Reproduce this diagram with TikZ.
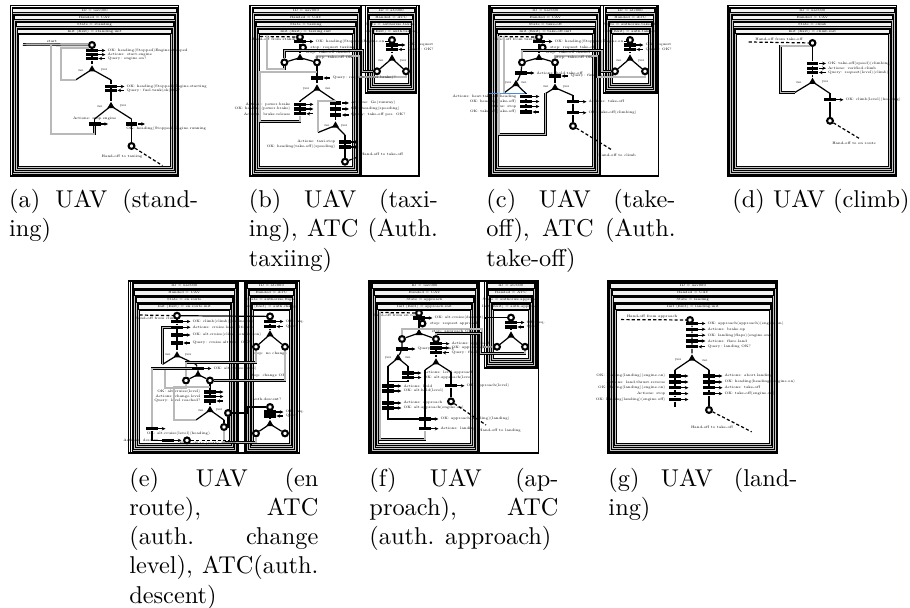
\documentclass[tikz,border=0pt]{standalone}
\usepackage{tikz}
\usetikzlibrary{arrows.meta,positioning,shapes.geometric}
\definecolor{selblue}{RGB}{70,140,215}
\tikzset{band/.style={fill=gray!45, draw=black, line width=0.3pt}, titlebar/.style={fill=gray!10, draw=black, line width=0.25pt}, panelbox/.style={draw=black, line width=0.5pt}, hdr/.style={font=\fontsize{1.4}{1.7}\selectfont, inner sep=0pt}, lbl/.style={font=\fontsize{1.45}{1.7}\selectfont, inner sep=0.3pt}, place/.style={circle, draw, line width=0.85pt, fill=white, inner sep=0pt, minimum size=2.4pt}, bar/.style={fill=black, inner sep=0pt, minimum width=4.9pt, minimum height=1.3pt}, choice/.style={regular polygon, regular polygon sides=3, fill=black, inner sep=0pt, minimum size=3.4pt}, flow/.style={line width=0.5pt}, back/.style={draw=black, line width=0.22pt, double=gray!55, double distance=0.6pt}, hand/.style={line width=0.5pt, dash pattern=on 1.3pt off 0.9pt}, sigo/.style={-{Stealth[length=1.5pt,width=1.4pt]}, line width=0.45pt}, sigi/.style={{Stealth[length=1.5pt,width=1.4pt]}-, line width=0.45pt}, sel/.style={draw=selblue, line width=0.6pt}, subcap/.style={align=left, inner sep=0pt, anchor=north west, font=\normalsize}}
% nested frames: prefix, x1, y1, x2, y2, four title lines
\newcommand{\panelframe}[9]{%
  \draw[panelbox] (#2,#3) rectangle (#4,#5);
  \foreach \k/\txt in {0/{#6},1/{#7},2/{#8},3/{#9}}{%
    \filldraw[band] (#2+1.5+1.7*\k,#3+1.5+7*\k) rectangle (#4-1.5-1.7*\k,#5-1.5-2*\k);
    \filldraw[titlebar] (#2+2.3+1.7*\k,#3+2.3+7*\k) rectangle (#4-2.3-1.7*\k,#3+7+7*\k);
    \node[hdr] (#1-h\k) at ({(#2+#4)/2},#3+4.65+7*\k) {\txt};
  }
  \filldraw[fill=white, line width=0.3pt] (#2+8.3,#3+29) rectangle (#4-8.3,#5-9.5);
}
% transition bar: name, x, y, o/i, text, side (l,r,a,b,q)
\newcommand{\tbar}[6]{%
  \node[bar] (#1) at (#2,#3) {};
  \draw[sig#4] (#1.east) -- ++(7,0) coordinate (#1-e);
  \if l#6\node[lbl,left=0.8pt of #1] (#1-l) {#5};\else
  \if b#6\node[lbl,below=0.4pt of #1] (#1-l) {#5};\else
  \if a#6\node[lbl,above=0.4pt of #1] (#1-l) {#5};\else
  \if q#6\node[lbl,anchor=north west] (#1-l) at (#1.south west) {#5};\else
  \node[lbl,right=0.4pt of #1-e] (#1-l) {#5};\fi\fi\fi\fi}
\newcommand{\capline}[1]{\makebox[77.7pt][s]{#1}}

\begin{document}
\begin{tikzpicture}[x=0.411pt,y=-0.411pt]
\useasboundingbox (0,0) rectangle (910,608);

% (a) UAV standing
\panelframe{a}{10.4}{5.8}{178.8}{176}{ID = uav000}{Handed = UAV}{State = standing}{Init (Exit) = standing.init}
\coordinate (a-s) at (23,44.5);
\coordinate (a-j) at (51,44.5);
\node[place] (a-p0) at (92,45) {};
\node[lbl] (a-sl) at (52,41.5) {start};
\draw[back] (a-s) -- (a-p0);
\tbar{a-t1}{92}{50.5}{o}{OK: heading(Stopped)Engine.stopped}{r}
\tbar{a-t2}{92}{54.6}{o}{Actions: start.engine}{r}
\tbar{a-t3}{92}{58.5}{i}{Query: engine.on?}{r}
\node[choice] (a-c1) at (92,69.4) {};
\coordinate (a-n1) at (75.5,80); \coordinate (a-y1) at (111,80);
\draw[flow] (a-p0) -- (a-t1) -- (a-t2) -- (a-t3) -- (a-c1);
\draw[flow] (a-n1) -- (a-c1.center) -- (a-y1);
\node[lbl] (a-nl) at (81,70.5) {no}; \node[lbl] (a-yl) at (104,70.5) {yes};
\draw[back] (a-n1) -- ++(-14.5,0) |- (a-p0.south west);
\tbar{a-t4}{111}{86.5}{o}{OK: heading(Stopped)Engine.starting}{r}
\tbar{a-t5}{111}{90.4}{i}{Query: fuel.tank(ok)OK?}{r}
\node[choice] (a-c2) at (111,106) {};
\coordinate (a-n2) at (94.6,119); \coordinate (a-y2) at (131.5,119);
\draw[flow] (a-y1) -- (a-t4) -- (a-t5) -- (a-c2);
\draw[flow] (a-n2) -- (a-c2.center) -- (a-y2);
\node[lbl] (a-nl2) at (100,106.5) {no}; \node[lbl] (a-yl2) at (123,106.5) {yes};
\tbar{a-t6}{94.6}{124}{o}{Actions: stop.engine}{a}
\draw[flow] (a-n2) -- (a-t6);
\draw[back] (a-t6) -- ++(0,10) -| (a-j);
\tbar{a-t7}{131.5}{124}{o}{OK: heading(Stopped)Engine.running}{q}
\node[place] (a-p1) at (131.5,146) {};
\draw[flow] (a-y2) -- (a-t7) -- (a-p1);
\coordinate (a-h) at (162.5,165.6);
\draw[hand] (a-p1) -- (a-h);
\node[lbl] (a-hl) at (122,157) {Hand-off to taxiing};

% (b) UAV taxiing, ATC auth. taxiing
\draw[panelbox] (249.6,5.8) rectangle (419,176);
\panelframe{bu}{250.7}{5.8}{361}{176}{ID = uav000}{Handed = UAV}{State = taxiing}{Init (Exit) = taxiing.init}
\panelframe{ba}{365.6}{5.8}{416.7}{93}{ID = atc000}{Handed = ATC}{State = authorize.taxiing}{Init (Exit) = auth.taxiing}
\coordinate (b-s) at (260,36.5);
\coordinate (b-j0) at (267,36.5);
\node[place] (b-p0) at (300,37) {};
\draw[hand] (b-s) -- (b-p0);
\node[lbl] (b-sl) at (276,39.3) {Hand-off from standing};
\tbar{b-t1}{300}{41.5}{o}{OK: heading(Stopped)Engine.on}{r}
\node[place] (b-p1) at (303,47.5) {};
\node[lbl,right=1pt of b-p1] (b-p1l) {stop: request taxiing};
\node[place] (b-a0) at (392,40) {};
\draw[flow] (b-t1-l.east) -- ++(4,0) |- (b-a0);
\node[choice] (b-c1) at (300,57.7) {};
\node[place] (b-p2) at (284.4,62.4) {}; \node[place] (b-p3) at (317,62.4) {};
\draw[flow] (b-p0) -- (b-t1) -- (b-c1);
\draw[flow] (b-p2) -- (b-c1.center) -- (b-p3);
\draw[back] (b-p2) -- ++(0,6.6) -| (b-j0);
\tbar{b-a1}{392}{45}{o}{OK: request}{r}
\tbar{b-a4}{392}{49.5}{i}{Query: OK?}{r}
\node[choice] (b-ac) at (392,58.5) {};
\node[place] (b-a2) at (377,71.3) {}; \node[place] (b-a3) at (406,71.3) {};
\draw[flow] (b-a0) -- (b-a1) -- (b-a4) -- (b-ac);
\draw[flow] (b-a2) -- (b-ac.center) -- (b-a3);
\node[lbl] (b-anl) at (381,61) {no}; \node[lbl] (b-ayl) at (403,61) {yes};
\coordinate (b-q1) at (362.5,50.6); \coordinate (b-q2) at (359,55.8);
\draw[back] (b-p2) |- (b-q1) |- (b-a2);
\draw[back] (b-p3) |- (b-q2) -- ++(0,21) -| (b-a3);
\node[lbl] (b-dl) at (328,52.8) {stop: take-off denied};
\node[lbl] (b-ol) at (334,58) {stop: take-off OK};
\tbar{b-t2}{317}{78}{i}{Query: request(power.brake)?}{r}
\coordinate (b-j1) at (260,72); \coordinate (b-j2) at (317,72);
\node[choice] (b-c2) at (317,88.5) {};
\coordinate (b-n2) at (300,101); \coordinate (b-y2) at (335.5,101);
\draw[flow] (b-p3) -- (b-t2) -- (b-c2);
\draw[flow] (b-n2) -- (b-c2.center) -- (b-y2);
\node[lbl] (b-yl) at (306,89) {yes}; \node[lbl] (b-nl) at (328,89) {no};
\tbar{b-t3}{300}{104.4}{o}{Actions: power.brake}{l}
\tbar{b-t4}{300}{109}{o}{OK: heading(power.brake)}{l}
\tbar{b-t5}{300}{113.8}{i}{Actions: brake.release}{l}
\draw[flow] (b-n2) -- (b-t3) -- (b-t4) -- (b-t5);
\draw[back] (b-t5) -- ++(0,7.6) -| (b-j1) -- (b-j2);
\tbar{b-t6}{335.5}{103}{o}{Actions: Go(runway)}{r}
\tbar{b-t7}{335.5}{109}{o}{OK: heading(speeding)}{r}
\tbar{b-t8}{335.5}{115}{i}{Query: take-off pos. OK?}{r}
\node[choice] (b-c3) at (335.5,125.5) {};
\coordinate (b-n3) at (318,132.5); \coordinate (b-y3) at (345,135);
\draw[flow] (b-y2) -- (b-t6) -- (b-t7) -- (b-t8) -- (b-c3);
\draw[flow] (b-n3) -- (b-c3.center) -- (b-y3);
\draw[back] (b-n3) |- (b-y2);
\node[lbl] (b-nl3) at (327,126) {no}; \node[lbl] (b-yl3) at (344,126) {yes};
\tbar{b-t9}{345}{142}{o}{Actions: taxi.stop}{l}
\tbar{b-t10}{345}{147}{o}{OK: heading(take-off)(speeding)}{l}
\node[place] (b-p4) at (345,161.7) {};
\draw[flow] (b-y3) -- (b-t9) -- (b-t10) -- (b-p4);
\coordinate (b-h) at (358,157);
\draw[hand] (b-p4) -- (b-h);
\node[lbl] (b-hl) at (382,154.7) {Hand-off to take-off};

% (c) UAV take-off, ATC auth. take-off
\draw[panelbox] (489,5.8) rectangle (658.7,176);
\panelframe{cu}{490}{5.8}{600.7}{176}{ID = uav000}{Handed = UAV}{State = take-off}{Init (Exit) = take-off.init}
\panelframe{ca}{603.6}{5.8}{657}{93}{ID = atc000}{Handed = ATC}{State = authorize.take-off}{Init (Exit) = auth.take-off}
\coordinate (c-s) at (499,36.5);
\node[place] (c-p0) at (539,37) {};
\draw[hand] (c-s) -- (c-p0);
\node[lbl] (c-sl) at (516,39.3) {Hand-off from taxiing};
\tbar{c-t1}{539}{41.5}{o}{OK: heading(Stopped)Engine.on}{r}
\node[place] (c-p1) at (542.7,47.5) {};
\node[lbl,right=1pt of c-p1] (c-p1l) {stop: request take-off};
\node[place] (c-a0) at (630,40) {};
\draw[flow] (c-t1-l.east) -- ++(4,0) |- (c-a0);
\node[choice] (c-c1) at (539,57.7) {};
\node[place] (c-p2) at (522,62.4) {}; \node[place] (c-p3) at (555,62.4) {};
\draw[flow] (c-p0) -- (c-t1) -- (c-c1);
\draw[flow] (c-p2) -- (c-c1.center) -- (c-p3);
\tbar{c-a1}{630}{45}{o}{OK: request}{r}
\tbar{c-a4}{630}{49.5}{i}{Query: OK?}{r}
\node[choice] (c-ac) at (630,58.5) {};
\node[place] (c-a2) at (615,71.3) {}; \node[place] (c-a3) at (645,71.3) {};
\draw[flow] (c-a0) -- (c-a1) -- (c-a4) -- (c-ac);
\draw[flow] (c-a2) -- (c-ac.center) -- (c-a3);
\node[lbl] (c-anl) at (619,61) {no}; \node[lbl] (c-ayl) at (641,61) {yes};
\coordinate (c-q1) at (602.2,50.6); \coordinate (c-q2) at (597.5,55.8);
\draw[back] (c-p2) |- (c-q1) |- (c-a2);
\draw[back] (c-p3) |- (c-q2) -- ++(0,21) -| (c-a3);
\node[lbl] (c-dl) at (568,52.8) {stop: take-off denied};
\node[lbl] (c-ol) at (574,58) {stop: take-off OK};
\tbar{c-t2}{521}{73}{o}{Actions: hold.take-off}{r}
\node[choice] (c-c2) at (516,84) {};
\coordinate (c-n2) at (504,93); \coordinate (c-y2) at (526,93.5);
\coordinate (c-j1) at (504,36.5);
\draw[flow] (c-p2) -- (c-t2) -- (c-c2);
\draw[flow] (c-n2) -- (c-c2.center) -- (c-y2);
\node[lbl] (c-yl) at (508,83) {yes}; \node[lbl] (c-nl) at (524,83) {no};
\draw[back] (c-n2) -- (c-j1);
\coordinate (c-f) at (489,93.5);
\draw[sel] (c-f) -- (c-y2);
\tbar{c-t3}{526}{96.5}{o}{Actions: heat.take-off.heading}{l}
\tbar{c-t4}{526}{101.5}{o}{OK: heading(take-off)}{l}
\tbar{c-t5}{526}{106.5}{o}{Actions: stop}{l}
\tbar{c-t6}{526}{112}{i}{OK: take-off(take-off)}{l}
\draw[flow] (c-y2) -- (c-t3) -- (c-t4) -- (c-t5) -- (c-t6);
\tbar{c-t7}{555}{76}{i}{Query: final take-off?}{r}
\node[choice] (c-c3) at (555,87.7) {};
\coordinate (c-n3) at (545.6,93.5); \coordinate (c-y3) at (573,95.5);
\draw[flow] (c-p3) -- (c-t7) -- (c-c3);
\draw[flow] (c-n3) -- (c-c3.center) -- (c-y3);
\node[lbl] (c-nl3) at (546,87) {no}; \node[lbl] (c-yl3) at (566,87) {yes};
\draw[back] (c-n3) -- ++(0,41) -| (c-s);
\tbar{c-t8}{573}{101.7}{o}{Actions: take-off}{r}
\tbar{c-t9}{573}{112.8}{o}{OK: take-off(climbing)}{r}
\node[place] (c-p4) at (573,126) {};
\draw[flow] (c-y3) -- (c-t8) -- (c-t9) -- (c-p4);
\coordinate (c-h) at (612,150);
\draw[hand] (c-p4) -- (c-h);
\node[lbl] (c-hl) at (617,155.5) {Hand-off to climb};

% (d) UAV climb
\panelframe{d}{728}{5.8}{896.7}{176}{ID = uav000}{Handed = UAV}{State = climb}{Init (Exit) = climb.init}
\coordinate (d-s) at (748.7,42);
\node[place] (d-p0) at (812.5,43) {};
\draw[hand] (d-s) -- (d-p0);
\node[lbl] (d-sl) at (779,39.5) {Hand-off from take-off};
\tbar{d-t1}{812.5}{63.5}{o}{OK: take-off(speed)(climbing)}{r}
\tbar{d-t2}{812.5}{68.2}{o}{Actions: verified.climb}{r}
\tbar{d-t3}{812.5}{72.5}{i}{Query: request(level)(climb)}{r}
\node[choice] (d-c1) at (812.5,81.8) {};
\coordinate (d-n1) at (795,92.4); \coordinate (d-y1) at (830,93.5);
\draw[flow] (d-p0) -- (d-t1) -- (d-t2) -- (d-t3) -- (d-c1);
\draw[flow] (d-n1) -- (d-c1.center) -- (d-y1);
\node[lbl] (d-nl) at (799,82.5) {no}; \node[lbl] (d-yl) at (825,82.5) {yes};
\draw[back] (d-n1) -- ++(-14.4,0) |- (d-p0.south west);
\tbar{d-t4}{830}{99.8}{o}{OK: climb(level)(heading)}{r}
\node[place] (d-p1) at (830,120.8) {};
\draw[flow] (d-y1) -- (d-t4) -- (d-p1);
\coordinate (d-h) at (859,138.3);
\draw[hand] (d-p1) -- (d-h);
\node[lbl] (d-hl) at (854,143) {Hand-off to en route};

% (e) UAV en route, ATC auth. change level / auth. descent
\draw[panelbox] (128.8,281) rectangle (299.5,453);
\panelframe{eu}{130.6}{281}{238}{453}{ID = uav000}{Handed = UAV}{State = en route}{Init (Exit) = en.route.init}
\panelframe{ea}{245}{281}{297.7}{453}{ID = atc000}{Handed = ATC}{State = authorize.flight}{Init (Exit) = auth.change}
\coordinate (e-s) at (139.5,315);
\node[place] (e-p0) at (177,315.7) {};
\draw[hand] (e-s) -- (e-p0);
\node[lbl] (e-sl) at (156,318) {Hand-off from climb};
\tbar{e-t1}{177}{321.5}{o}{OK: climb(climb)(engine.on)}{r}
\tbar{e-t2}{177}{327.3}{o}{Actions: cruise.level.altitude}{r}
\tbar{e-t3}{177}{335}{o}{OK: alt.cruise(climb)(engine.on)}{r}
\tbar{e-t4}{177}{343}{i}{Query: cruise.altitude OK?}{r}
\node[choice] (e-c1) at (177,355.4) {};
\coordinate (e-n1) at (162.5,364.4); \coordinate (e-y1) at (196,364.4);
\draw[flow] (e-p0) -- (e-t1) -- (e-t2) -- (e-t3) -- (e-t4) -- (e-c1);
\draw[flow] (e-n1) -- (e-c1.center) -- (e-y1);
\node[lbl] (e-nl) at (168,355) {no}; \node[lbl] (e-yl) at (188,355) {yes};
\draw[back] (e-n1) |- (e-t2);
\node[place] (e-a0) at (270,316.4) {};
\draw[flow] (e-p0) -- (e-a0);
\tbar{e-t5}{198}{368.5}{o}{OK: alt.cruise(level)}{r}
\node[choice] (e-c2) at (198,374.5) {};
\node[place] (e-p2) at (186,380.5) {}; \node[place] (e-p3) at (210,380.5) {};
\draw[flow] (e-y1) -- (e-t5) -- (e-c2);
\draw[flow] (e-p2) -- (e-c2.center) -- (e-p3);
\coordinate (e-q1) at (165,368.5);
\draw[back] (e-p2) -- ++(0,7.5) -| (e-q1) -- (e-t5);
\tbar{e-a1}{270}{321.5}{o}{OK: req.}{r}
\tbar{e-a4}{270}{326.6}{i}{Query}{r}
\node[choice] (e-ac) at (270,334.4) {};
\node[place] (e-a2) at (256,346.8) {}; \node[place] (e-a3) at (285,346.8) {};
\draw[flow] (e-a0) -- (e-a1) -- (e-a4) -- (e-ac);
\draw[flow] (e-a2) -- (e-ac.center) -- (e-a3);
\node[lbl] (e-a2l) at (270,353.8) {stop: no change};
\node[lbl] (e-a3l) at (268,376) {stop: change OK};
\draw[back] (e-a3) |- (e-p3);
\draw[back] (e-a2) -- ++(0,15.6) -| (e-p2);
\coordinate (e-q4) at (210,387);
\tbar{e-t6}{210}{392}{o}{OK: alt.cruise(level)}{l}
\tbar{e-t7}{210}{396.5}{o}{Actions: change.level}{l}
\tbar{e-t8}{210}{401}{i}{Query: level reached?}{l}
\node[choice] (e-c3) at (210,410) {};
\coordinate (e-n3) at (196,420); \coordinate (e-y3) at (224,420);
\draw[flow] (e-p3) -- (e-t6) -- (e-t7) -- (e-t8) -- (e-c3);
\draw[flow] (e-n3) -- (e-c3.center) -- (e-y3);
\node[lbl] (e-nl3) at (201,410.5) {no}; \node[lbl] (e-yl3) at (219,410.5) {yes};
\draw[back] (e-n3) -- ++(-22,0) |- (e-q4);
\tbar{e-t10}{152}{428.7}{o}{OK: alt.cruise(level)(heading)}{q}
\draw[back] (e-t10) |- (e-t5);
\node[place] (e-p5) at (224,427) {};
\node[place] (e-p4) at (228,413) {};
\draw[flow] (e-y3) -- (e-p5);
\draw[flow] (e-p5) -| (e-p4);
\node[lbl] (e-bl) at (267,399.5) {auth.descent?};
\node[place] (e-b0) at (270,407) {};
\draw[flow] (e-p4) -- ++(20,0) |- (e-b0);
\tbar{e-b1}{270}{412}{o}{OK: req.}{r}
\tbar{e-b4}{270}{416}{i}{Query}{r}
\node[choice] (e-bc) at (270,424) {};
\node[place] (e-b2) at (256,433.4) {}; \node[place] (e-b3) at (285,433.4) {};
\draw[flow] (e-b0) -- (e-b1) -- (e-b4) -- (e-bc);
\draw[flow] (e-b2) -- (e-bc.center) -- (e-b3);
\draw[back] (e-b2) -- ++(0,9) -| (e-p5);
\tbar{e-t11}{168}{440.4}{o}{Actions: descent}{l}
\draw[flow] (e-t10) |- (e-t11);
\node[place] (e-p7) at (187,440.4) {};
\coordinate (e-h) at (229,440.4);
\draw[hand] (e-p7) -- (e-h);
\node[lbl] (e-hl) at (208,443.6) {Hand-off to (auth) descent};

% (f) UAV approach, ATC auth. approach
\draw[panelbox] (369,281) rectangle (538.6,453);
\panelframe{fu}{370}{281}{479}{453}{ID = uav000}{Handed = UAV}{State = approach}{Init (Exit) = approach.init}
\panelframe{fa}{484.6}{281}{537}{368}{ID = atc000}{Handed = ATC}{State = authorize.approach}{Init (Exit) = auth.approach}
\coordinate (f-s) at (380,312.5);
\node[place] (f-p0) at (419,313) {};
\draw[hand] (f-s) -- (f-p0);
\node[lbl] (f-sl) at (397,315.3) {Hand-off from en route};
\tbar{f-t1}{419}{318}{o}{OK: alt.cruise(descent)}{r}
\node[place] (f-p1) at (422.5,323.5) {};
\node[lbl,right=1pt of f-p1] (f-p1l) {stop: request approach};
\node[place] (f-a0) at (511,317.6) {};
\draw[flow] (f-t1-l.east) -- ++(3,0) |- (f-a0);
\node[choice] (f-c1) at (419,333) {};
\node[place] (f-p2) at (402,339) {}; \node[place] (f-p3) at (436,339) {};
\draw[flow] (f-p0) -- (f-t1) -- (f-c1);
\draw[flow] (f-p2) -- (f-c1.center) -- (f-p3);
\tbar{f-a1}{511}{322.5}{o}{OK: req.}{r}
\tbar{f-a4}{511}{327}{i}{Query}{r}
\node[choice] (f-ac) at (511,335.5) {};
\node[place] (f-a2) at (497,346.8) {}; \node[place] (f-a3) at (525,346.8) {};
\draw[flow] (f-a0) -- (f-a1) -- (f-a4) -- (f-ac);
\draw[flow] (f-a2) -- (f-ac.center) -- (f-a3);
\coordinate (f-q1) at (482,329.2); \coordinate (f-q2) at (480.5,333.7);
\draw[back] (f-p2) |- (f-q1) |- (f-a2);
\draw[back] (f-p3) |- (f-q2) -- ++(0,20) -| (f-a3);
\node[lbl] (f-dl) at (452,331.5) {stop: approach OK};
\tbar{f-t2}{402}{349}{o}{Query: c.heading}{r}
\node[choice] (f-c2) at (398,358) {};
\coordinate (f-n2) at (388,366.3); \coordinate (f-y2) at (408,366.3);
\draw[flow] (f-p2) -- (f-t2) -- (f-c2);
\draw[flow] (f-n2) -- (f-c2.center) -- (f-y2);
\node[lbl] (f-nl2) at (388,358) {yes}; \node[lbl] (f-yl2) at (408,358) {no};
\tbar{f-t3}{408}{373}{o}{Actions: level.approach}{r}
\tbar{f-t4}{408}{377.5}{o}{OK: alt.approach(level)}{r}
\coordinate (f-q6) at (388,383);
\draw[flow] (f-y2) -- (f-t3) -- (f-t4);
\draw[flow] (f-t4) -- ++(0,4) -| (f-q6);
\tbar{f-t10}{388}{386}{o}{Actions: hold}{r}
\tbar{f-t11}{388}{391}{o}{OK: alt.hold(level)}{r}
\tbar{f-t12}{388}{403}{o}{Actions: approach}{r}
\tbar{f-t13}{388}{408}{o}{OK: alt.approach(engine.on)}{r}
\draw[flow] (f-n2) -- (f-t10) -- (f-t11) -- (f-t12) -- (f-t13);
\tbar{f-t5}{436}{343.7}{o}{Actions: approach}{r}
\tbar{f-t6}{436}{348}{o}{OK: approach(level)}{r}
\tbar{f-t6b}{436}{352.7}{i}{Query: final?}{r}
\node[choice] (f-c3) at (436,362.4) {};
\coordinate (f-n3) at (425,370); \coordinate (f-y3) at (451,372);
\draw[flow] (f-p3) -- (f-t5) -- (f-t6) -- (f-t6b) -- (f-c3);
\draw[flow] (f-n3) -- (f-c3.center) -- (f-y3);
\tbar{f-t14}{425}{419}{o}{OK: approach(heading)(landing)}{r}
\tbar{f-t15}{425}{428.7}{o}{Actions: landing}{r}
\draw[flow] (f-t13) |- (f-t14);
\draw[flow] (f-n3) -- (f-t14) -- (f-t15);
\draw[back] (f-t15) -- ++(0,11) -| (f-s);
\tbar{f-t16}{451}{385.8}{o}{OK: approach(level)}{r}
\node[place] (f-p4) at (451,401.4) {};
\draw[flow] (f-y3) -- (f-t16) -- (f-p4);
\coordinate (f-h) at (486,425);
\draw[hand] (f-p4) -- (f-h);
\node[lbl] (f-hl) at (500,431) {Hand-off to landing};

% (g) UAV landing
\panelframe{g}{608}{281}{777.7}{453}{ID = uav000}{Handed = UAV}{State = landing}{Init (Exit) = landing.init}
\coordinate (g-s) at (621,319.6);
\node[place] (g-p0) at (690,320) {};
\draw[hand] (g-s) -- (g-p0);
\node[lbl] (g-sl) at (652,316.8) {Hand-off from approach};
\tbar{g-t1}{692}{323.5}{o}{OK: approach(approach)(engine.on)}{r}
\tbar{g-t2}{692}{329.3}{o}{Actions: brake.up}{r}
\tbar{g-t3}{692}{335.2}{o}{OK: landing(flaps)(engine.on)}{r}
\tbar{g-t4}{692}{341}{o}{Actions: flare.land}{r}
\tbar{g-t5}{692}{346.8}{i}{Query: landing OK?}{r}
\node[choice] (g-c1) at (692,358.5) {};
\coordinate (g-y1) at (675,370); \coordinate (g-n1) at (709,370);
\draw[flow] (g-p0) -- (g-t1) -- (g-t2) -- (g-t3) -- (g-t4) -- (g-t5) -- (g-c1);
\draw[flow] (g-y1) -- (g-c1.center) -- (g-n1);
\node[lbl] (g-yl) at (678,360.5) {yes}; \node[lbl] (g-nl) at (705,360.5) {no};
\tbar{g-t6}{675}{376}{o}{OK: landing(landing)(engine.on)}{l}
\tbar{g-t7}{675}{382}{o}{Actions: land.thrust.reverse}{l}
\tbar{g-t8}{675}{387.7}{o}{OK: flaring(landing)(engine.on)}{l}
\tbar{g-t9}{675}{393.6}{o}{Actions: stop}{l}
\tbar{g-t10}{675}{399.5}{o}{OK: landing(landing)(engine.off)}{l}
\coordinate (g-e) at (675,407);
\draw[flow] (g-y1) -- (g-t6) -- (g-t7) -- (g-t8) -- (g-t9) -- (g-t10) -- (g-e);
\tbar{g-t11}{709}{376}{o}{Actions: abort.landing}{r}
\tbar{g-t12}{709}{382}{o}{OK: heading(heading)(engine.on)}{r}
\tbar{g-t13}{709}{387.7}{o}{Actions: take-off}{r}
\tbar{g-t14}{709}{393.6}{o}{OK: take-off(engine.on)}{r}
\node[place] (g-p1) at (709,410) {};
\draw[flow] (g-n1) -- (g-t11) -- (g-t12) -- (g-t13) -- (g-t14) -- (g-p1);
\coordinate (g-h) at (751.6,431.8);
\draw[hand] (g-p1) -- (g-h);
\node[lbl] (g-hl) at (712,427) {Hand-off to take-off};

% captions
\node[subcap] (cap-a) at (8.7,189) {\capline{(a) UAV (stand-}\\ing)};
\node[subcap] (cap-b) at (248.4,189) {\capline{(b) UAV (taxi-}\\\capline{ing), ATC (Auth.}\\taxiing)};
\node[subcap] (cap-c) at (486,189) {\capline{(c) UAV (take-}\\\capline{off), ATC (Auth.}\\take-off)};
\node[subcap] (cap-d) at (732,189) {(d) UAV (climb)};
\node[subcap] (cap-e) at (128.8,467.6) {\capline{(e) UAV (en}\\\capline{route), ATC}\\\capline{(auth. change}\\\capline{level), ATC(auth.}\\descent)};
\node[subcap] (cap-f) at (369,467.6) {\capline{(f) UAV (ap-}\\\capline{proach), ATC}\\(auth. approach)};
\node[subcap] (cap-g) at (608,467.6) {\capline{(g) UAV (land-}\\ing)};
\end{tikzpicture}
\end{document}
